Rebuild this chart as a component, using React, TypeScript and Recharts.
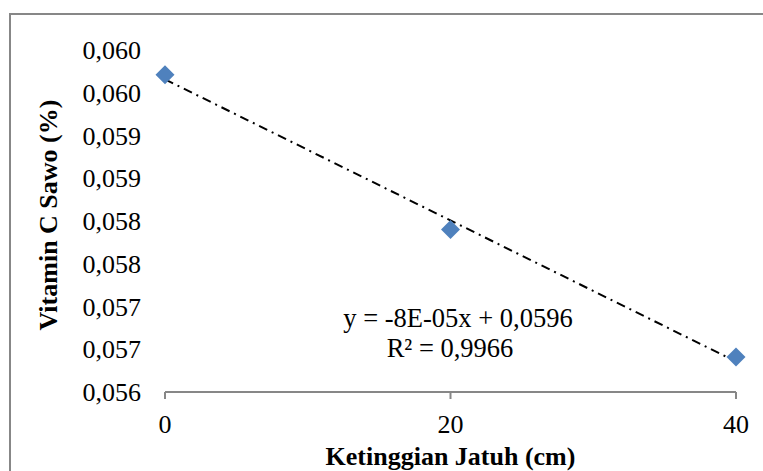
import { ScatterChart, Scatter, XAxis, YAxis, ReferenceLine, Label } from "recharts";

const heights = [0, 20, 40];
const vitaminC = [0.05971, 0.0579, 0.05641];

const xTicks = [0, 20, 40];
const yTicks = [0.056, 0.0565, 0.057, 0.0575, 0.058, 0.0585, 0.059, 0.0595, 0.06];
const yTickLabels = ["0,056", "0,057", "0,057", "0,058", "0,058", "0,059", "0,059", "0,060", "0,060"];

const equationText = "y = -8E-05x + 0,0596";
const r2Text = "R² = 0,9966";

const points = heights.map((h, i) => ({ x: h, y: vitaminC[i] }));

// least squares trendline through the points
const n = points.length;
const mx = heights.reduce((a, b) => a + b, 0) / n;
const my = vitaminC.reduce((a, b) => a + b, 0) / n;
const slope =
  points.reduce((s, p) => s + (p.x - mx) * (p.y - my), 0) /
  points.reduce((s, p) => s + (p.x - mx) ** 2, 0);
const intercept = my - slope * mx;
const trend = [
  { x: heights[0], y: intercept + slope * heights[0] },
  { x: heights[n - 1], y: intercept + slope * heights[n - 1] },
];

const FONT = '"Liberation Serif", "Times New Roman", serif';
const GRAY = "#878787";

const Diamond = (props: any) => {
  const { cx, cy } = props;
  const r = 9.5;
  return (
    <polygon
      points={`${cx},${cy - r} ${cx + r},${cy} ${cx},${cy + r} ${cx - r},${cy}`}
      fill="#4f81bd"
    />
  );
};

const YTick = (props: any) => {
  const { x, y, index } = props;
  return (
    <text x={x} y={y} dy="0.355em" textAnchor="end" fontSize={26} fontFamily={FONT} fill="#000">
      {yTickLabels[index]}
    </text>
  );
};

const XTick = (props: any) => {
  const { x, y, payload } = props;
  return (
    <text x={x} y={y} dy="0.71em" textAnchor="middle" fontSize={26} fontFamily={FONT} fill="#000">
      {payload.value}
    </text>
  );
};

export default function App() {
  return (
    <div
      style={{
        position: "fixed",
        left: 0,
        top: 0,
        width: 763,
        height: 471,
        overflow: "hidden",
        background: "#fff",
        fontFamily: FONT,
      }}
    >
      <style>{`.recharts-wrapper text, .recharts-text { font-family: ${FONT}; }`}</style>
      <div
        style={{
          position: "absolute",
          left: 9,
          top: 13,
          width: 900,
          height: 600,
          borderTop: `2px solid ${GRAY}`,
          borderLeft: `2px solid ${GRAY}`,
        }}
      />
      <div style={{ position: "absolute", left: 0, top: 0 }}>
        <ScatterChart
          width={763}
          height={471}
          margin={{ top: 50, right: 27, bottom: 0, left: 0 }}
        >
          <XAxis
            type="number"
            dataKey="x"
            domain={[0, 40]}
            ticks={xTicks}
            height={79}
            axisLine={{ stroke: GRAY, strokeWidth: 2 }}
            tickLine={{ stroke: GRAY, strokeWidth: 2 }}
            tickSize={7}
            tickMargin={16}
            tick={<XTick />}
          >
            <Label
              value="Ketinggian Jatuh (cm)"
              position="insideBottom"
              offset={6}
              style={{ fontSize: 26, fontWeight: "bold", fill: "#000" }}
            />
          </XAxis>
          <YAxis
            type="number"
            dataKey="y"
            domain={[0.056, 0.06]}
            ticks={yTicks}
            width={165}
            axisLine={false}
            tickLine={false}
            tickSize={0}
            tickMargin={24}
            tick={<YTick />}
          >
            <Label
              value="Vitamin C Sawo (%)"
              angle={-90}
              position="insideLeft"
              offset={48}
              dy={-6}
              style={{
                textAnchor: "middle",
                fontSize: 26,
                fontWeight: "bold",
                fill: "#000",
              }}
            />
          </YAxis>
          <ReferenceLine
            segment={trend}
            stroke="#000"
            strokeWidth={2}
            strokeDasharray="9 5 2 5"
            ifOverflow="visible"
          />
          <Scatter data={points} shape={<Diamond />} isAnimationActive={false} />
          <text x={458} y={327} textAnchor="middle" fontSize={26.5} fill="#000">
            {equationText}
          </text>
          <text x={450} y={357} textAnchor="middle" fontSize={26.5} fill="#000">
            {r2Text}
          </text>
        </ScatterChart>
      </div>
    </div>
  );
}
